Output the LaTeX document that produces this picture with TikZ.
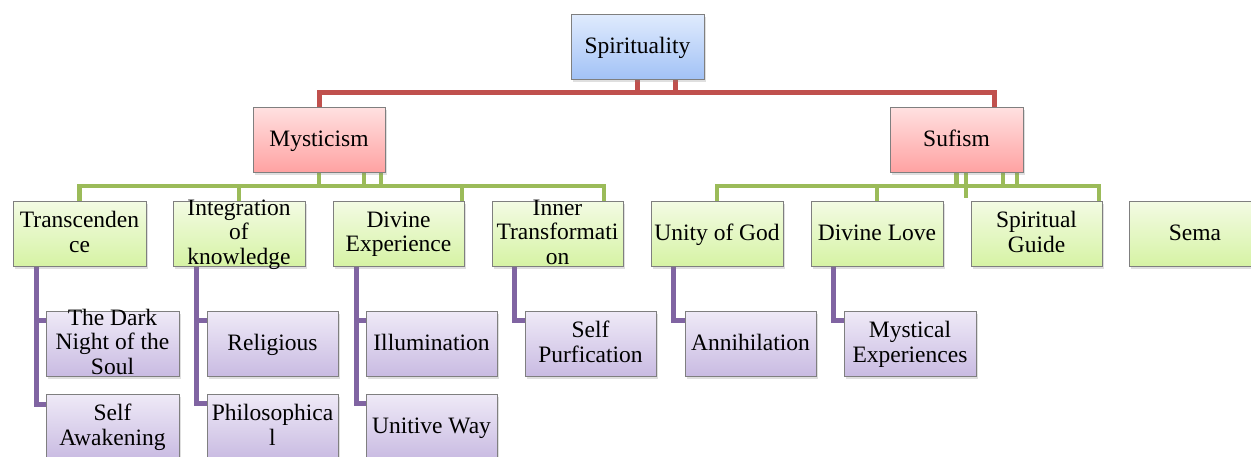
\documentclass[tikz,border=0pt]{standalone}
\usepackage{fontspec}
\setmainfont{Liberation Serif}
\newfontfamily\tnr{Liberation Serif}
\usetikzlibrary{shadows}
\pgfdeclarelayer{bg}
\pgfdeclarelayer{canvas}
\pgfsetlayers{canvas,bg,main}
\definecolor{bordergray}{HTML}{7F7F7F}
\definecolor{bluetop}{HTML}{E0EBFD}
\definecolor{bluebot}{HTML}{A2C2F6}
\definecolor{redtop}{HTML}{FFE0E0}
\definecolor{redbot}{HTML}{FFA2A2}
\definecolor{greentop}{HTML}{F3FBE4}
\definecolor{greenbot}{HTML}{D6F3A4}
\definecolor{purptop}{HTML}{EFEAF7}
\definecolor{purpbot}{HTML}{C9BBE2}
\definecolor{redline}{HTML}{C0504D}
\definecolor{greenline}{HTML}{9BBB59}
\definecolor{purpline}{HTML}{8064A2}
\tikzset{
  box/.style={draw=bordergray, line width=0.8pt, minimum width=132pt, minimum height=65pt, inner sep=0pt,
    drop shadow={shadow xshift=2pt, shadow yshift=-2.5pt, opacity=0.25}},
  bluebox/.style={box, top color=bluetop, bottom color=bluebot},
  redbox/.style={box, top color=redtop, bottom color=redbot},
  greenbox/.style={box, top color=greentop, bottom color=greenbot},
  purpbox/.style={box, top color=purptop, bottom color=purpbot},
  txt/.style={align=center, inner sep=0pt, text=black, yshift=-2pt,
    font=\tnr\fontsize{23.5}{24.5}\selectfont,
    execute at begin node=\strut, execute at end node=\strut},
  rline/.style={draw=redline, line width=5pt},
  gline/.style={draw=greenline, line width=4.5pt},
  pline/.style={draw=purpline, line width=5pt},
}
\begin{document}
\begin{tikzpicture}[x=1pt,y=-1pt]
\begin{pgfonlayer}{canvas}
\fill[white] (0,0) rectangle (1251,456);
\end{pgfonlayer}
\useasboundingbox (0,0) rectangle (1251,456);
% level 0
\node[bluebox, minimum width=133pt] (spirit) at (637.5,46.5) {};
\node[txt] (spirit-t) at (spirit) {Spirituality};
% level 1
\node[redbox] (myst) at (319,140) {};
\node[txt] (myst-t) at (myst) {Mysticism};
\node[redbox, minimum width=133pt] (sufi) at (956.5,140) {};
\node[txt] (sufi-t) at (sufi) {Sufism};
% level 2
\node[greenbox, minimum width=133pt] (trans) at (79.5,233.5) {};
\node[txt] (trans-t) at (trans) {Transcenden\\ce};
\node[greenbox] (integ) at (239,233.5) {};
\node[txt] (integ-t) at (integ) {Integration\\of\\knowledge};
\node[greenbox, minimum width=131pt] (divexp) at (398.5,233.5) {};
\node[txt] (divexp-t) at (divexp) {Divine\\Experience};
\node[greenbox, minimum width=131pt] (inner) at (557.5,233.5) {};
\node[txt] (inner-t) at (inner) {Inner\\Transformati\\on};
\node[greenbox] (unity) at (717,233.5) {};
\node[txt] (unity-t) at (unity) {Unity of God};
\node[greenbox] (dlove) at (877,233.5) {};
\node[txt] (dlove-t) at (dlove) {Divine Love};
\node[greenbox, minimum width=131pt] (spg) at (1036.5,233.5) {};
\node[txt] (spg-t) at (spg) {Spiritual\\Guide};
\node[greenbox] (sema) at (1195,233.5) {};
\node[txt] (sema-t) at (sema) {Sema};
% level 3
\node[purpbox, minimum width=133pt] (dark) at (112.5,343.5) {};
\node[txt] (dark-t) at (dark) {The Dark\\Night of the\\Soul};
\node[purpbox, minimum width=133pt] (awak) at (112.5,426.5) {};
\node[txt] (awak-t) at (awak) {Self\\Awakening};
\node[purpbox, minimum width=131pt] (relig) at (272.5,343.5) {};
\node[txt] (relig-t) at (relig) {Religious};
\node[purpbox, minimum width=131pt] (philo) at (272.5,426.5) {};
\node[txt] (philo-t) at (philo) {Philosophica\\l};
\node[purpbox, minimum width=131pt] (illum) at (431.5,343.5) {};
\node[txt] (illum-t) at (illum) {Illumination};
\node[purpbox, minimum width=131pt] (unit) at (431.5,426.5) {};
\node[txt] (unit-t) at (unit) {Unitive Way};
\node[purpbox, minimum width=131pt] (purf) at (590.5,343.5) {};
\node[txt] (purf-t) at (purf) {Self\\Purfication};
\node[purpbox, minimum width=131pt] (anni) at (750.5,343.5) {};
\node[txt] (anni-t) at (anni) {Annihilation};
\node[purpbox, minimum width=132pt] (mystexp) at (910,343.5) {};
\node[txt] (mystexp-t) at (mystexp) {Mystical\\Experiences};
\begin{pgfonlayer}{bg}
% red connectors
\draw[rline] (spirit.south) -- ++(0,13) -| (myst.north);
\draw[rline] (spirit.south) -- ++(0,13) -| ([xshift=37.5pt]sufi.north);
\draw[rline] ([xshift=37.5pt]spirit.south) -- ++(0,13);
% green connectors (Mysticism)
\draw[gline] (myst.south) -- ++(0,13) -| (trans.north);
\draw[gline] (myst.south) -- ++(0,13) -| (integ.north);
\draw[gline] (myst.south) -- ++(0,13) -| ([xshift=63.5pt]divexp.north);
\draw[gline] (myst.south) -- ++(0,13) -| ([xshift=46.5pt]inner.north);
\draw[gline] ([xshift=45pt]myst.south) -- ++(0,13);
\draw[gline] ([xshift=62pt]myst.south) -- ++(0,13);
% green connectors (Sufism)
\draw[gline] (sufi.south) -- ++(0,13) -| (unity.north);
\draw[gline] (sufi.south) -- ++(0,13) -| (dlove.north);
\draw[gline] (sufi.south) -- ++(0,13) -| ([xshift=62.5pt]spg.north);
\draw[gline] ([xshift=9.5pt]sufi.south) -- ([xshift=-70.5pt,yshift=3pt]spg.north);
\draw[gline] ([xshift=46.5pt]sufi.south) -- ++(0,13);
\draw[gline] ([xshift=60.5pt]sufi.south) -- ++(0,13);
% purple connectors
\draw[pline] ([xshift=24pt]trans.south west) |- ([yshift=-10pt]dark.north west);
\draw[pline] ([xshift=24pt]trans.south west) |- ([yshift=-11pt]awak.north west);
\draw[pline] ([xshift=24pt]integ.south west) |- ([yshift=-10pt]relig.north west);
\draw[pline] ([xshift=24pt]integ.south west) |- ([yshift=-10pt]philo.north west);
\draw[pline] ([xshift=23.5pt]divexp.south west) |- ([yshift=-10pt]illum.north west);
\draw[pline] ([xshift=23.5pt]divexp.south west) |- ([yshift=-10pt]unit.north west);
\draw[pline] ([xshift=22.5pt]inner.south west) |- ([yshift=-10pt]purf.north west);
\draw[pline] ([xshift=23pt]unity.south west) |- ([yshift=-10pt]anni.north west);
\draw[pline] ([xshift=23pt]dlove.south west) |- ([yshift=-10pt]mystexp.north west);
\end{pgfonlayer}
\end{tikzpicture}
\end{document}
